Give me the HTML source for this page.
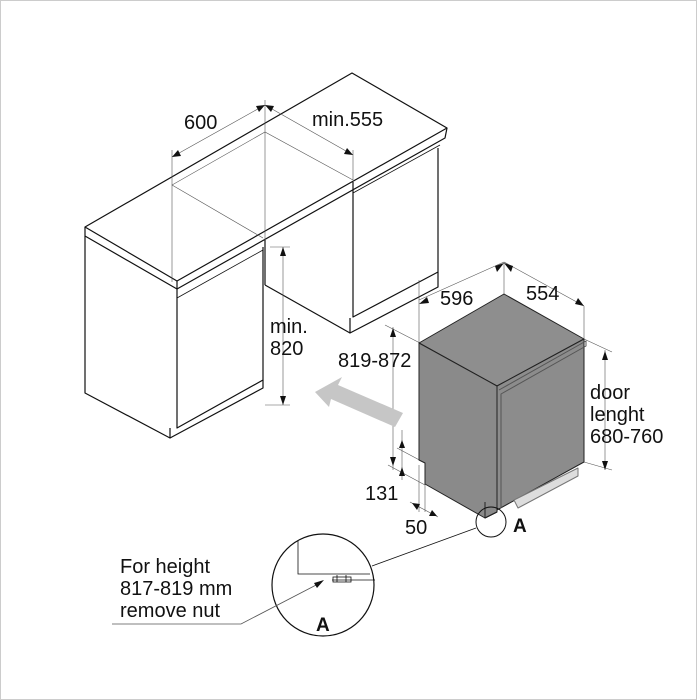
<!DOCTYPE html>
<html><head><meta charset="utf-8"><style>
body{margin:0;background:#fff}
svg{display:block}
text{font-family:"Liberation Sans",sans-serif;fill:#111}
</style></head><body>
<svg width="697" height="700" viewBox="0 0 697 700" xmlns="http://www.w3.org/2000/svg">
<rect x="0.5" y="0.5" width="696" height="699" fill="#fff" stroke="#ccc"/>
<g fill="none" stroke="#111" stroke-width="1.2" stroke-linejoin="round">
<polygon points="85,227 352,73 447,128 177,281" fill="#fff"/>
<polyline points="85,227 85,236 177,289 177,281"/>
<polyline points="177,289 445,138 447,128"/>
<polyline points="85,236 85,393 170,438 170,428"/>
<polyline points="177,289 177,428 263,380 263,247"/>
<polyline points="170,438 263,388 263,380"/>
<line x1="177" y1="298" x2="263" y2="250" stroke-width="0.8"/>
<polyline points="353,182 353,317 438,272 438,148"/>
<line x1="353" y1="193" x2="440" y2="145" stroke-width="0.8"/>
<polyline points="350,318 350,333 438,287 438,272"/>
<polyline points="265,285 350,333"/>
<line x1="265" y1="240" x2="265" y2="285"/>
</g>
<g fill="none" stroke="#555" stroke-width="0.6">
<polyline points="172,282 172,185 265,132 353,180"/>
<line x1="265" y1="132" x2="265" y2="240"/>
<line x1="172" y1="185" x2="263" y2="238"/>
<line x1="172" y1="150" x2="172" y2="185"/>
<line x1="265" y1="100" x2="265" y2="132"/>
<line x1="353" y1="150" x2="353" y2="180"/>
<line x1="172" y1="157" x2="265" y2="105"/>
<line x1="265" y1="105" x2="353" y2="155"/>
<line x1="283" y1="247" x2="283" y2="405"/>
<line x1="270" y1="247" x2="290" y2="247"/>
<line x1="265" y1="405" x2="290" y2="405"/>
<line x1="393" y1="327" x2="393" y2="470"/>
<line x1="385" y1="325" x2="420" y2="343"/>
<line x1="402" y1="430" x2="402" y2="480"/>
<line x1="397" y1="448" x2="425" y2="463"/>
<line x1="388" y1="465" x2="425" y2="485"/>
<line x1="419" y1="280" x2="419" y2="343"/>
<line x1="425" y1="463" x2="425" y2="512"/>
<line x1="419" y1="465" x2="419" y2="512"/>
<line x1="410" y1="502" x2="438" y2="517"/>
<line x1="419" y1="300" x2="504" y2="262"/>
<line x1="504" y1="262" x2="504" y2="294"/>
<line x1="504" y1="262" x2="584" y2="306"/>
<line x1="584" y1="306" x2="584" y2="339"/>
<line x1="584" y1="339" x2="612" y2="352"/>
<line x1="584" y1="462" x2="612" y2="470"/>
<line x1="605" y1="350" x2="605" y2="470"/>
</g>
<g fill="#111">
<polygon points="265,105 256,106 259,112"/>
<polygon points="265,105 274,106 271,112"/>
<polygon points="172,157 178,150 181,156"/>
<polygon points="353,155 344,154 347,148"/>
<polygon points="283,247 280,256 286,256"/>
<polygon points="283,405 280,396 286,396"/>
<polygon points="393,328 390,337 396,337"/>
<polygon points="393,466 390,457 396,457"/>
<polygon points="402,440 399,448 405,448"/>
<polygon points="402,467 399,476 405,476"/>
<polygon points="605,351 602,360 608,360"/>
<polygon points="605,470 602,461 608,461"/>
<polygon points="504,263 495,266 497,272"/>
<polygon points="504,263 513,266 511,272"/>
<polygon points="419,304 427,297 429,303"/>
<polygon points="584,306 575,304 578,298"/>
<polygon points="412,503 420,504 417,510"/>
<polygon points="437,516 429,516 432,510"/>
</g>
<polygon points="315,392 342,377 338,385 403,413 395,427 331,399 329,407" fill="#c6c6c6"/>
<g stroke="#222" stroke-width="1" stroke-linejoin="round">
<polygon points="419,343 504,294 584,339 497,386" fill="#8e8e8e"/>
<polygon points="419,343 497,386 497,512 485,518 425,484 425,463 419,460" fill="#8a8a8a"/>
<polygon points="497,386 584,339 584,462 497,510" fill="#8c8c8c"/>
<polyline points="499,390 586,341 586,346 501,394 501,508" fill="none" stroke="#555"/>
<polygon points="514,500 578,468 578,476 518,508" fill="#ddd" stroke="#777"/>
<polyline points="485,502 485,518 497,512" fill="none"/>
</g>
<circle cx="491" cy="522" r="15" fill="none" stroke="#111" stroke-width="1"/>
<line x1="476" y1="528" x2="372" y2="566" stroke="#111" stroke-width="0.8"/>
<circle cx="323" cy="585" r="51" fill="#fff" stroke="#111" stroke-width="1.2"/>
<g fill="none" stroke="#111" stroke-width="0.8">
<polyline points="298,540 298,574 370,574"/>
<line x1="332" y1="580" x2="375" y2="580"/>
<rect x="333" y="577" width="18" height="5"/>
<line x1="337" y1="575" x2="337" y2="582"/><line x1="346" y1="575" x2="346" y2="582"/>
<polyline points="112,624 241,624 320,583" stroke="#555"/>
</g>
<polygon points="324,580 314,583 317,588" fill="#111"/>
<g font-size="20">
<text x="184" y="129">600</text>
<text x="312" y="126">min.555</text>
<text x="270" y="333">min.</text>
<text x="270" y="355">820</text>
<text x="338" y="367">819-872</text>
<text x="440" y="305">596</text>
<text x="526" y="300">554</text>
<text x="590" y="399">door</text>
<text x="590" y="421">lenght</text>
<text x="590" y="443">680-760</text>
<text x="365" y="500">131</text>
<text x="405" y="534">50</text>
<text x="120" y="573">For height</text>
<text x="120" y="595">817-819 mm</text>
<text x="120" y="617">remove nut</text>
</g>
<text x="513" y="532" font-size="19" font-weight="bold">A</text>
<text x="316" y="631" font-size="19" font-weight="bold">A</text>
</svg>
</body></html>
